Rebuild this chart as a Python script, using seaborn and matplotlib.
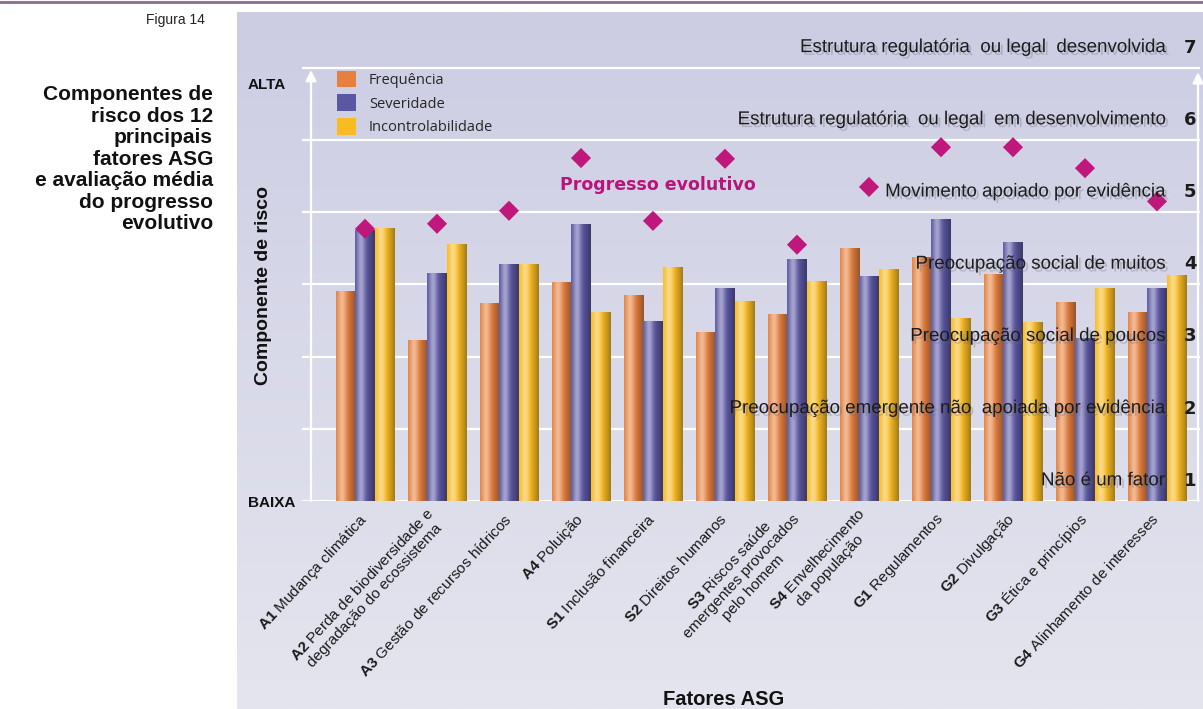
import numpy as np
import pandas as pd
import matplotlib
matplotlib.use("Agg")
import matplotlib.pyplot as plt
import matplotlib.patheffects as pe
from matplotlib.lines import Line2D
from matplotlib.colors import to_rgb
import seaborn as sns

# Fatores ASG (eixo x)
fatores = [
    r"$\mathbf{A1}$ Mudança climática",
    "$\\mathbf{A2}$ Perda de biodiversidade e\ndegradação do ecossistema",
    r"$\mathbf{A3}$ Gestão de recursos hídricos",
    r"$\mathbf{A4}$ Poluição",
    r"$\mathbf{S1}$ Inclusão financeira",
    r"$\mathbf{S2}$ Direitos humanos",
    "$\\mathbf{S3}$ Riscos saúde\nemergentes provocados\npelo homem",
    "$\\mathbf{S4}$ Envelhecimento\nda população",
    r"$\mathbf{G1}$ Regulamentos",
    r"$\mathbf{G2}$ Divulgação",
    r"$\mathbf{G3}$ Ética e princípios",
    r"$\mathbf{G4}$ Alinhamento de interesses",
]

# componentes de risco (unidades de grade, BAIXA = 0, ALTA = 6)
frequencia = [2.91, 2.23, 2.74, 3.03, 2.85, 2.34, 2.59, 3.50, 3.38, 3.14, 2.76, 2.62]
severidade = [3.76, 3.16, 3.28, 3.84, 2.49, 2.95, 3.35, 3.12, 3.91, 3.59, 2.26, 2.95]
incontrolabilidade = [3.78, 3.56, 3.28, 2.62, 3.24, 2.77, 3.05, 3.21, 2.53, 2.48, 2.95, 3.13]

# avaliação média do progresso evolutivo (escala 1-7)
progresso = [4.49, 4.56, 4.74, 5.47, 4.60, 5.46, 4.27, 5.07, 5.62, 5.62, 5.33, 4.87]

niveis = [1, 2, 3, 4, 5, 6, 7]
niveis_texto = [
    "Não é um fator",
    "Preocupação emergente não  apoiada por evidência",
    "Preocupação social de poucos",
    "Preocupação social de muitos",
    "Movimento apoiado por evidência",
    "Estrutura regulatória  ou legal  em desenvolvimento",
    "Estrutura regulatória  ou legal  desenvolvida",
]

componentes = ["Frequência", "Severidade", "Incontrolabilidade"]
cores = ["#e5803f", "#5b57a3", "#f9bb22"]

df = pd.DataFrame({
    "fator": fatores * 3,
    "componente": np.repeat(componentes, len(fatores)),
    "valor": frequencia + severidade + incontrolabilidade,
})

sns.set_theme(style="white")
plt.rcParams["font.family"] = ["Liberation Sans", "DejaVu Sans"]
plt.rcParams["mathtext.fontset"] = "custom"
plt.rcParams["mathtext.rm"] = "Liberation Sans"
plt.rcParams["mathtext.bf"] = "Liberation Sans:bold"

W, H = 1203, 709
fig = plt.figure(figsize=(W / 100, H / 100), dpi=100)
fig.patch.set_facecolor("white")

# painel de fundo com gradiente
bg = fig.add_axes([237 / W, 0, 1 - 237 / W, 1 - 12 / H])
grad = np.linspace(0, 1, 256)[:, None]
c_top = np.array([204, 205, 227]) / 255
c_bot = np.array([229, 229, 239]) / 255
img = c_top[None, None, :] * (1 - grad[..., None]) + c_bot[None, None, :] * grad[..., None]
bg.imshow(np.repeat(img, 2, axis=1), aspect="auto", extent=[0, 1, 0, 1])
bg.set_axis_off()

fig.add_artist(Line2D([0, 1], [1 - 2 / H, 1 - 2 / H], color="#8c6a8c", lw=2))

ax = fig.add_axes([302 / W, 1 - 501 / H, 898 / W, 482 / H])
ax.set_facecolor("none")

sns.barplot(data=df, x="fator", y="valor", hue="componente", palette=cores,
            width=0.8, gap=0, saturation=1, linewidth=0, ax=ax)

# sombreado cilíndrico das barras
t = np.linspace(0, 1, 64)
luz = 0.45 * np.exp(-((t - 0.3) / 0.2) ** 2)
sombra_bar = 0.35 * np.clip((t - 0.45) / 0.55, 0, 1) ** 1.3
for p in list(ax.patches):
    base = np.array(to_rgb(p.get_facecolor()))
    cor = base[None, :] * (1 - sombra_bar[:, None])
    cor = cor + (1 - cor) * luz[:, None]
    im = ax.imshow(cor[None, :, :], aspect="auto", interpolation="bilinear",
                   extent=[p.get_x(), p.get_x() + p.get_width(), 0, p.get_height()],
                   zorder=p.get_zorder() + 0.01)
    im.set_clip_path(p)

x0 = (302 - 365) / 72
x1 = (1200 - 365) / 72
ax.set_xlim(x0, x1)
ax.set_ylim(0, 6.676)
ax.set_yticks(range(7))
ax.set_yticklabels([])
ax.yaxis.grid(True, color="white", lw=1.6)
ax.set_axisbelow(True)
for s in ax.spines.values():
    s.set_visible(False)
ax.tick_params(axis="both", length=0)
ax.tick_params(axis="x", pad=11)
ax.set_xticks(range(len(fatores)))
ax.set_xticklabels(fatores, rotation=47, ha="right", va="center", rotation_mode="anchor",
                   fontsize=11, color="#1a1a1a")
for lab in ax.get_xticklabels():
    lab.set_multialignment("center")

ax.set_xlabel("Fatores ASG", fontsize=14.5, fontweight="bold", color="#111111")
ax.xaxis.set_label_coords(0.47, -0.392)
ax.set_ylabel("Componente de risco", fontsize=14, fontweight="bold", color="#111111")
ax.yaxis.set_label_coords(-0.033, 0.448)

yt = ax.get_yaxis_transform()
ax.text(-0.060, 5.76, "ALTA", transform=yt, ha="left", va="center",
        fontsize=11, fontweight="bold", color="#111111")
ax.text(-0.060, -0.03, "BAIXA", transform=yt, ha="left", va="center",
        fontsize=11, fontweight="bold", color="#111111")

# eixos com setas brancas
for xa, ytop in [((311 - 365) / 72, 5.97), ((1198 - 365) / 72, 5.94)]:
    ax.annotate("", xy=(xa, ytop), xytext=(xa, 0),
                arrowprops=dict(arrowstyle="-|>", color="white", lw=1.6,
                                mutation_scale=16, shrinkA=0, shrinkB=0))

handles, labels = ax.get_legend_handles_labels()
ax.legend(handles, labels, loc="upper left", bbox_to_anchor=(0.039, 0.893),
          frameon=False, borderpad=0, borderaxespad=0, handlelength=1.3,
          handleheight=1.35, labelspacing=0.47, handletextpad=0.9,
          prop={"family": "Open Sans", "size": 10.5})

# eixo do progresso evolutivo (1-7)
ax2 = ax.twinx()
off = 0.72
ax2.set_ylim(off, off + 6.676)
ax2.set_yticks([])
for s in ax2.spines.values():
    s.set_visible(False)

sns.scatterplot(x=np.arange(len(fatores)), y=progresso, marker="D", s=105,
                color="#c0177b", edgecolor="none", ax=ax2, zorder=3)

ax2.text((658 - 365) / 72, 4.38 + off, "Progresso evolutivo", ha="center", va="center",
         fontsize=12.5, fontweight="bold", color="#b8147a", family="DejaVu Sans")

sombra = [pe.SimplePatchShadow(offset=(2, -2), shadow_rgbFace="#666677", alpha=0.3),
          pe.Normal()]
for n, txt in zip(niveis, niveis_texto):
    yy = n - 1 + 0.28 + off
    ax2.text((1165 - 365) / 72, yy, txt, ha="right", va="center", fontsize=13.5,
             color="#1c1c1c", zorder=5, path_effects=sombra)
    ax2.text((1190 - 365) / 72, yy, str(n), ha="center", va="center", fontsize=13,
             fontweight="bold", family="DejaVu Sans", color="#1c1c1c", zorder=5)

# título à esquerda
fig.text(205 / W, 1 - 20 / H, "Figura 14", ha="right", va="center",
         fontsize=10, color="#222222")
fig.text(213 / W, 1 - 85 / H,
         "Componentes de\nrisco dos 12\nprincipais\nfatores ASG\ne avaliação média\ndo progresso\nevolutivo",
         ha="right", va="top", multialignment="right", fontsize=15,
         fontweight="bold", linespacing=1.17, color="#111111")

fig.savefig("out.png", dpi=100)
